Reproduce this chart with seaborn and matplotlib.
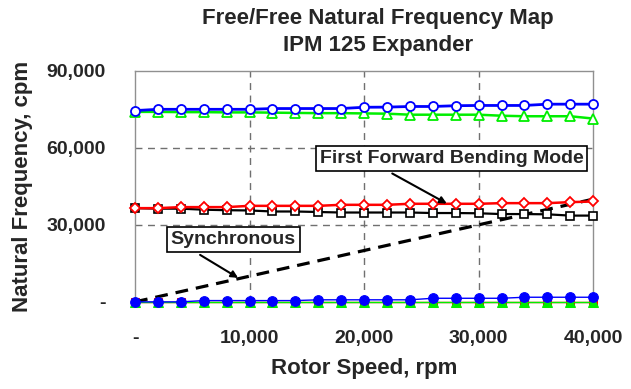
import numpy as np
import matplotlib
matplotlib.use("Agg")
import matplotlib.pyplot as plt
import seaborn as sns
from matplotlib.ticker import FuncFormatter

sns.set_style("white")
plt.rcParams['font.family'] = ['Liberation Sans', 'DejaVu Sans']

# rotor speed, rpm (21 points, every 2,000 rpm)
speed = [0, 2000, 4000, 6000, 8000, 10000, 12000, 14000, 16000, 18000, 20000,
         22000, 24000, 26000, 28000, 30000, 32000, 34000, 36000, 38000, 40000]

# natural frequencies, cpm
mode_blue_open = [74500, 75000, 75000, 75000, 75000, 75000, 75300, 75300, 75300, 75300, 75800,
                  75850, 76100, 76100, 76400, 76500, 76500, 76500, 77000, 77000, 77000]
mode_green_open = [74000, 74000, 73900, 73900, 73800, 73800, 73700, 73600, 73500, 73500, 73400,
                   73300, 72900, 72900, 72900, 72900, 72500, 72300, 72300, 72300, 71400]
mode_red_open = [36500, 36500, 36900, 36900, 36900, 37400, 37400, 37400, 37400, 37800, 37800,
                 37800, 38200, 38200, 38200, 38200, 38450, 38450, 38450, 38840, 39100]
mode_black_open = [36500, 36300, 36300, 35900, 35700, 35600, 35200, 35200, 35000, 34800, 34800,
                   34800, 34800, 34600, 34600, 34500, 34200, 34200, 34100, 33600, 33600]
mode_blue_fill = [0, 0, 0, 500, 500, 500, 500, 500, 800, 800, 800,
                  800, 800, 1400, 1400, 1400, 1400, 1800, 1800, 1800, 1800]
mode_red_fill = [0] * 21
mode_green_fill = [0] * 21

sync_speed = [0, 40000]
sync_freq = [0, 40000]

fig = plt.figure(figsize=(6.31, 3.89), dpi=100)
ax = fig.add_axes([0.214, 0.224, 0.726, 0.594])

# low modes
sns.lineplot(x=speed, y=mode_red_fill, color='red', lw=1, marker='s', ms=6,
             markeredgecolor='red', ax=ax, clip_on=False, zorder=3)
sns.lineplot(x=speed, y=mode_green_fill, color='#00ee00', lw=1, marker='^', ms=7,
             markeredgecolor='#00ee00', ax=ax, clip_on=False, zorder=4)
sns.lineplot(x=speed, y=mode_blue_fill, color='blue', lw=1, marker='o', ms=7,
             markeredgecolor='blue', ax=ax, clip_on=False, zorder=5)

# bending modes
sns.lineplot(x=speed, y=mode_black_open, color='black', lw=1.6, marker='s', ms=6,
             markerfacecolor='white', markeredgecolor='black', markeredgewidth=1.2,
             ax=ax, clip_on=False, zorder=5)
sns.lineplot(x=speed, y=mode_red_open, color='red', lw=1.8, marker='D', ms=5.5,
             markerfacecolor='white', markeredgecolor='red', markeredgewidth=1.3,
             ax=ax, clip_on=False, zorder=6)
sns.lineplot(x=speed, y=mode_green_open, color='#00ee00', lw=1.8, marker='^', ms=7,
             markerfacecolor='white', markeredgecolor='#00ee00', markeredgewidth=1.3,
             ax=ax, clip_on=False, zorder=5)
sns.lineplot(x=speed, y=mode_blue_open, color='blue', lw=2, marker='o', ms=6.5,
             markerfacecolor='white', markeredgecolor='blue', markeredgewidth=1.3,
             ax=ax, clip_on=False, zorder=6)

# synchronous line
ax.plot(sync_speed, sync_freq, color='black', lw=2.3, dashes=(4, 2.5), zorder=4)

ax.set_xlim(0, 40000)
ax.set_ylim(0, 90000)
ax.set_xticks([0, 10000, 20000, 30000, 40000])
ax.set_yticks([0, 30000, 60000, 90000])
fmt = FuncFormatter(lambda v, p: '-' if v == 0 else f'{int(v):,}')
ax.xaxis.set_major_formatter(fmt)
ax.yaxis.set_major_formatter(fmt)

for v in [10000, 20000, 30000]:
    ax.axvline(v, color='#707070', lw=1, ls=(0, (5, 4)), zorder=1)
for v in [30000, 60000]:
    ax.axhline(v, color='#707070', lw=1, ls=(0, (5, 4)), zorder=1)

for s in ['left', 'top', 'right']:
    ax.spines[s].set_color('#909090')
    ax.spines[s].set_linewidth(1)
ax.spines['bottom'].set_visible(False)

ax.tick_params(axis='y', which='major', direction='out', length=5, color='#909090',
               labelsize=14, pad=16)
ax.tick_params(axis='x', which='major', direction='out', length=0,
               labelsize=14, pad=20)
for lab in ax.get_xticklabels() + ax.get_yticklabels():
    lab.set_fontweight('bold')

ax.set_xlabel('Rotor Speed, rpm', fontsize=16, fontweight='bold', labelpad=8)
ax.set_ylabel('Natural Frequency, cpm', fontsize=16, fontweight='bold', labelpad=10)

fig.text(0.599, 0.98, 'Free/Free Natural Frequency Map\nIPM 125 Expander', ha='center',
         va='top', fontsize=16, fontweight='bold', linespacing=1.4)

# callouts
box = dict(boxstyle='square,pad=0.2', fc='white', ec='black', lw=1.2)
ax.text(27640, 55700, 'First Forward Bending Mode', ha='center', va='center',
        fontsize=14, fontweight='bold', bbox=box, zorder=8)
ax.annotate('', xy=(27220, 38300), xytext=(22460, 50000),
            arrowprops=dict(arrowstyle='-|>', lw=1.5, color='black', shrinkA=0, shrinkB=0),
            zorder=7)
ax.text(8560, 24150, 'Synchronous', ha='center', va='center',
        fontsize=14, fontweight='bold', bbox=box, zorder=8)
ax.annotate('', xy=(9000, 9350), xytext=(5680, 18300),
            arrowprops=dict(arrowstyle='-|>', lw=1.5, color='black', shrinkA=0, shrinkB=0),
            zorder=7)

fig.savefig('out.png', dpi=100)
